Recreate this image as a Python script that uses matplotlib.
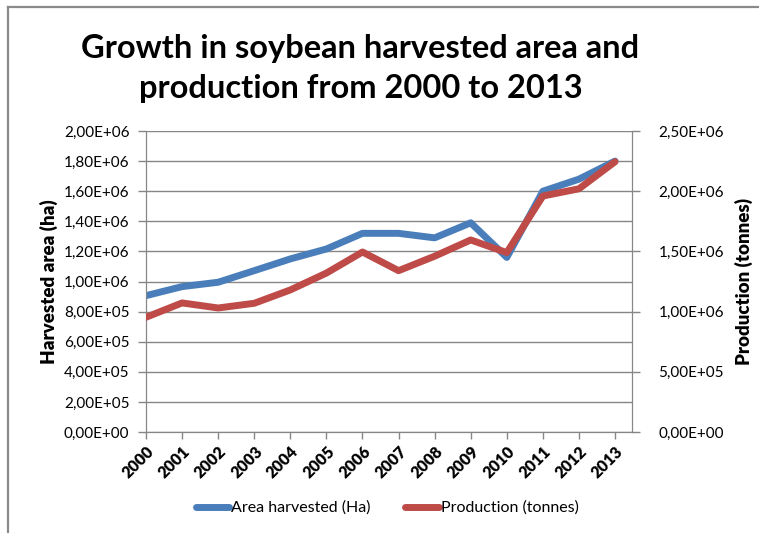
import numpy as np
import matplotlib
matplotlib.use('Agg')
import matplotlib.pyplot as plt
from matplotlib.lines import Line2D
from matplotlib.ticker import FuncFormatter, MultipleLocator

years = ['2000', '2001', '2002', '2003', '2004', '2005', '2006',
         '2007', '2008', '2009', '2010', '2011', '2012', '2013']
area_ha = [906000, 966000, 995000, 1072000, 1150000, 1216000, 1320000,
           1320000, 1290000, 1390000, 1160000, 1600000, 1680000, 1800000]
production_t = [953000, 1072000, 1030000, 1069000, 1180000, 1320000, 1495000,
                1340000, 1460000, 1595000, 1490000, 1960000, 2020000, 2245000]

plt.rcParams['font.family'] = ['Lato', 'DejaVu Sans']
grey = '#868686'

def sci_comma(v, pos):
    return f'{v:.2E}'.replace('.', ',')

fig = plt.figure(figsize=(7.59, 5.33), dpi=100)
ax = fig.add_axes([146 / 759, 101 / 533, 486 / 759, 301 / 533])
ax2 = ax.twinx()

x = np.arange(len(years))
l1, = ax.plot(x, area_ha, color='#4A7EBB', lw=5, solid_capstyle='round', zorder=3)
l2, = ax2.plot(x, production_t, color='#BE4B48', lw=5, solid_capstyle='round', zorder=3)

ax.set_xlim(0, 13.47)
ax.set_ylim(0, 2.0e6)
ax2.set_ylim(0, 2.5e6)
ax.yaxis.set_major_locator(MultipleLocator(2e5))
ax2.yaxis.set_major_locator(MultipleLocator(5e5))
ax.yaxis.set_major_formatter(FuncFormatter(sci_comma))
ax2.yaxis.set_major_formatter(FuncFormatter(sci_comma))
ax.grid(axis='y', color=grey, lw=1)
ax.set_axisbelow(True)

ax.set_xticks(x)
ax.set_xticklabels(years, rotation=45, ha='right', va='top', rotation_mode='anchor',
                   fontsize=11.5, fontweight='heavy')
for a in (ax, ax2):
    a.tick_params(axis='y', color=grey, length=6, width=1, labelsize=11, pad=6)
    for s in a.spines.values():
        s.set_color(grey)
    a.spines['top'].set_visible(False)
ax.tick_params(axis='x', color=grey, length=5, width=1, pad=3)
ax2.tick_params(axis='y', pad=13)

ax.set_ylabel('Harvested area (ha)', fontsize=13.5, fontweight='heavy', labelpad=4)
ax2.set_ylabel('Production (tonnes)', fontsize=13.5, fontweight='heavy', labelpad=8)

fig.text(0.475, 0.872, 'Growth in soybean harvested area and\nproduction from 2000 to 2013',
         ha='center', va='center', fontsize=23.5, fontweight='bold', linespacing=1.45)

fig.legend([l1, l2], ['Area harvested (Ha)', 'Production (tonnes)'],
           loc='center', bbox_to_anchor=(0.51, 0.047), ncol=2, frameon=False,
           fontsize=11.5, handlelength=2.1, handletextpad=0.1, columnspacing=2.2)

fig.add_artist(Line2D([7.5 / 759, 7.5 / 759], [0, 1 - 7 / 533], color='#8a8a8a', lw=1.6))
fig.add_artist(Line2D([7.5 / 759, 1], [1 - 7 / 533, 1 - 7 / 533], color='#8a8a8a', lw=1.6))

fig.savefig('out.png', dpi=100)
